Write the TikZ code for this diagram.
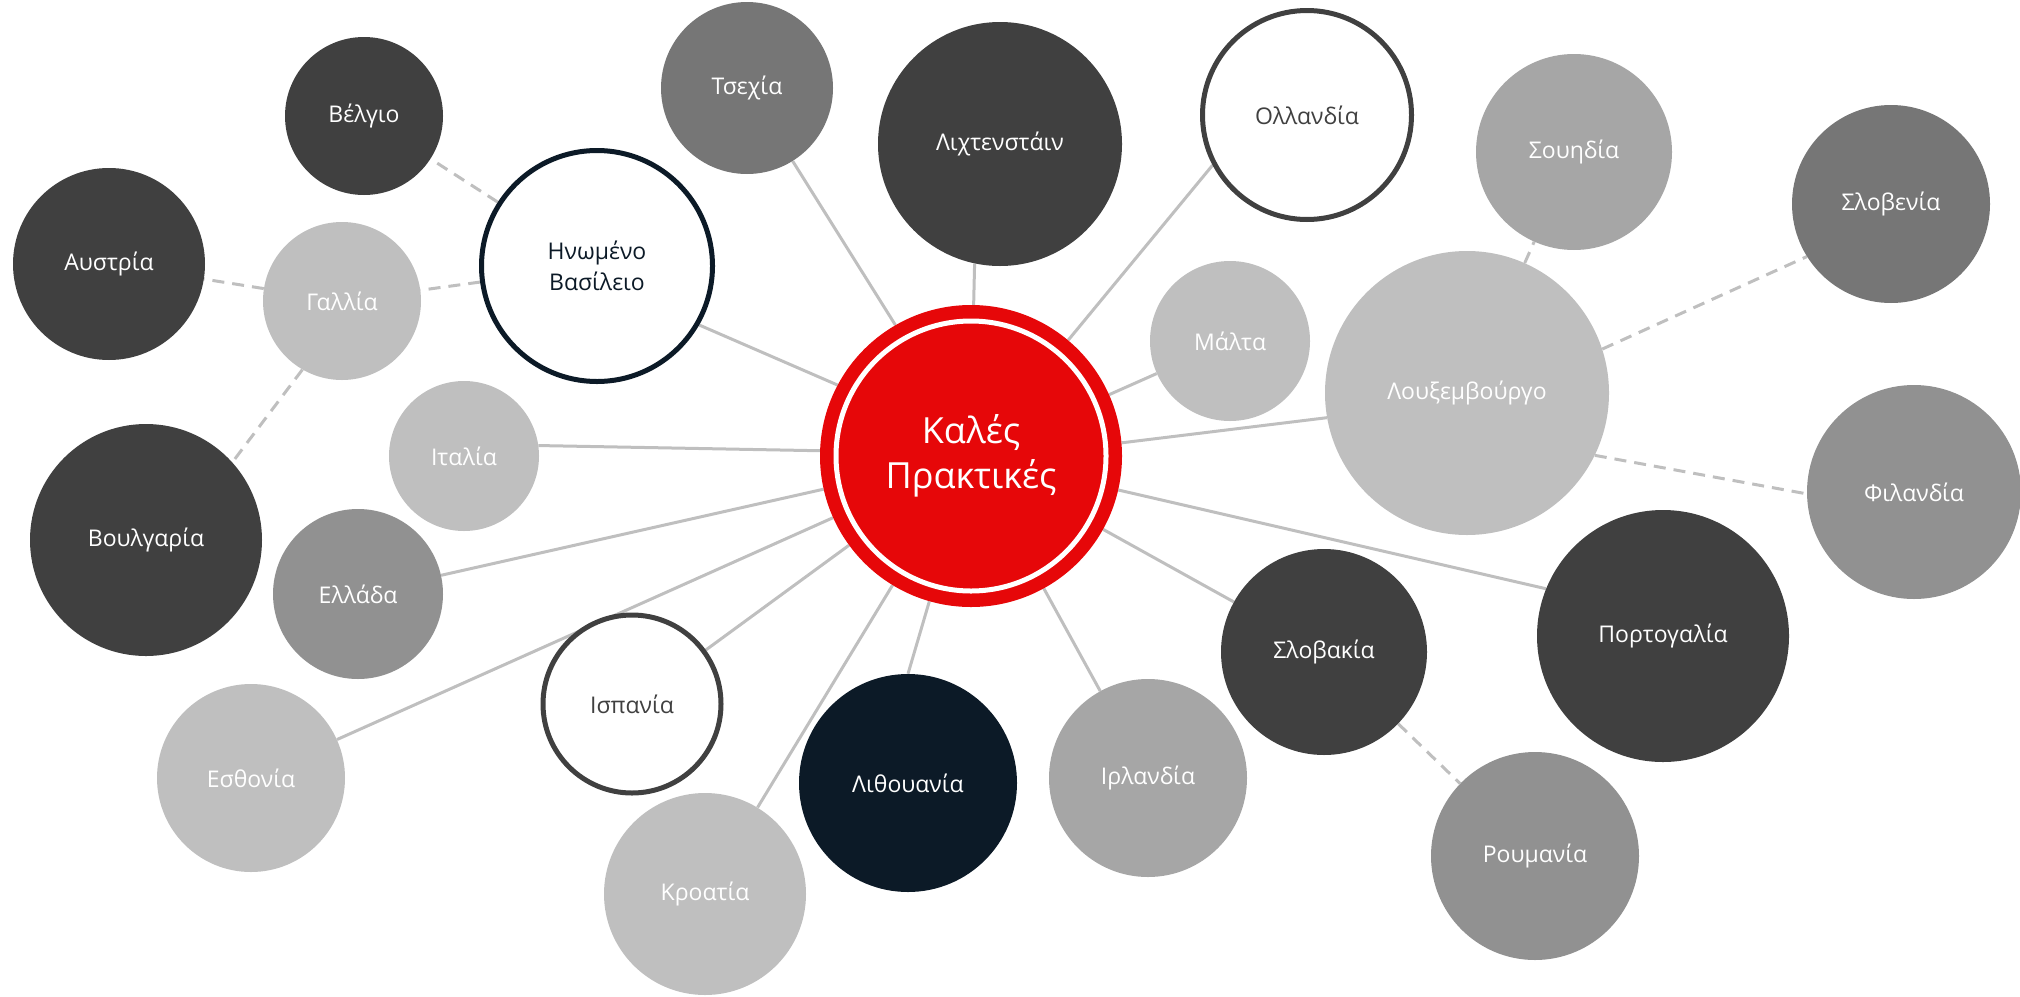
\documentclass[tikz,border=0pt]{standalone}
\usepackage{fontspec}
\setmainfont{Open Sans}
\usetikzlibrary{backgrounds}
\definecolor{cred}{RGB}{230,7,9}
\definecolor{cdark}{RGB}{64,64,64}
\definecolor{cgray}{RGB}{118,118,118}
\definecolor{cmid}{RGB}{145,145,145}
\definecolor{clight}{RGB}{166,166,166}
\definecolor{clighter}{RGB}{191,191,191}
\definecolor{cnavy}{RGB}{12,26,39}
\definecolor{cline}{RGB}{191,191,191}
\tikzset{
  bub/.style={circle, inner sep=0pt, minimum size=#1, text=white, align=center,
    font=\fontsize{23}{31}\selectfont},
  ring/.style={fill=white, draw=#1, line width=5pt},
  link/.style={draw=cline, line width=3pt},
  dlink/.style={draw=cline, line width=3pt, dash pattern=on 12pt off 8pt},
}
\begin{document}
\begin{tikzpicture}[x=1pt,y=-1pt]
\useasboundingbox (0,0) rectangle (2020,996);
% center
\node[circle, fill=cred, minimum size=302pt, inner sep=0pt] (c) at (971,456) {};
\draw[white, line width=5pt] (c.center) circle (135pt);
\node[text=white, align=center, font=\fontsize{36}{45}\selectfont] (ct) at (c.center) {Καλές\\Πρακτικές};
% bubbles
\node[bub=158pt, fill=cdark] (be) at (364,116) {Βέλγιο};
\node[bub=192pt, fill=cdark] (au) at (109,264) {Αυστρία};
\node[bub=158pt, fill=clighter] (fr) at (342,301) {Γαλλία};
\node[bub=231pt, ring=cnavy, text=cnavy] (uk) at (597,266) {Ηνωμένο\\Βασίλειο};
\node[bub=172pt, fill=cgray] (cz) at (747,88) {Τσεχία};
\node[bub=244pt, fill=cdark] (li) at (1000,144) {Λιχτενστάιν};
\node[bub=209pt, ring=cdark, text=cdark] (nl) at (1307,115) {Ολλανδία};
\node[bub=196pt, fill=clight] (se) at (1574,152) {Σουηδία};
\node[bub=198pt, fill=cgray] (si) at (1891,204) {Σλοβενία};
\node[bub=160pt, fill=clighter] (mt) at (1230,341) {Μάλτα};
\node[bub=284pt, fill=clighter] (lu) at (1467,393) {Λουξεμβούργο};
\node[bub=214pt, fill=cmid] (fi) at (1914,492) {Φιλανδία};
\node[bub=252pt, fill=cdark] (pt) at (1663,636) {Πορτογαλία};
\node[bub=206pt, fill=cdark] (sk) at (1324,652) {Σλοβακία};
\node[bub=208pt, fill=cmid] (ro) at (1535,856) {Ρουμανία};
\node[bub=198pt, fill=clight] (ie) at (1148,778) {Ιρλανδία};
\node[bub=218pt, fill=cnavy] (lt) at (908,783) {Λιθουανία};
\node[bub=202pt, fill=clighter] (hr) at (705,894) {Κροατία};
\node[bub=178pt, ring=cdark, text=cdark] (es) at (632,704) {Ισπανία};
\node[bub=188pt, fill=clighter] (ee) at (251,778) {Εσθονία};
\node[bub=170pt, fill=cmid] (gr) at (358,594) {Ελλάδα};
\node[bub=150pt, fill=clighter] (it) at (464,456) {Ιταλία};
\node[bub=232pt, fill=cdark] (bg) at (146,540) {Βουλγαρία};
% connectors
\begin{scope}[on background layer]
\draw[link] (c.152) -- (uk.330);
\draw[link] (c.120) -- (cz.302);
\draw[link] (c.89) -- (li.258);
\draw[link] (c.50) -- (nl.208);
\draw[link] (c) -- (mt);
\draw[link] (c.5) -- (lu.190);
\draw[link] (c.-13) -- (pt.158);
\draw[link] (c) -- (sk);
\draw[link] (c) -- (ie);
\draw[link] (c.254) -- (lt.90);
\draw[link] (c) -- (hr);
\draw[link] (c) -- (es);
\draw[link] (c) -- (ee);
\draw[link] (c) -- (gr);
\draw[link] (c.178) -- (it.8);
\draw[dlink] (uk) -- (be);
\draw[dlink] (uk) -- (fr);
\draw[dlink] (fr) -- (au);
\draw[dlink] (fr.240) -- (bg.42);
\draw[dlink] (lu) -- (se);
\draw[dlink] (lu.18) -- (si.212);
\draw[dlink] (lu.-26) -- (fi.181);
\draw[dlink] (sk) -- (ro);
\end{scope}
\end{tikzpicture}
\end{document}
